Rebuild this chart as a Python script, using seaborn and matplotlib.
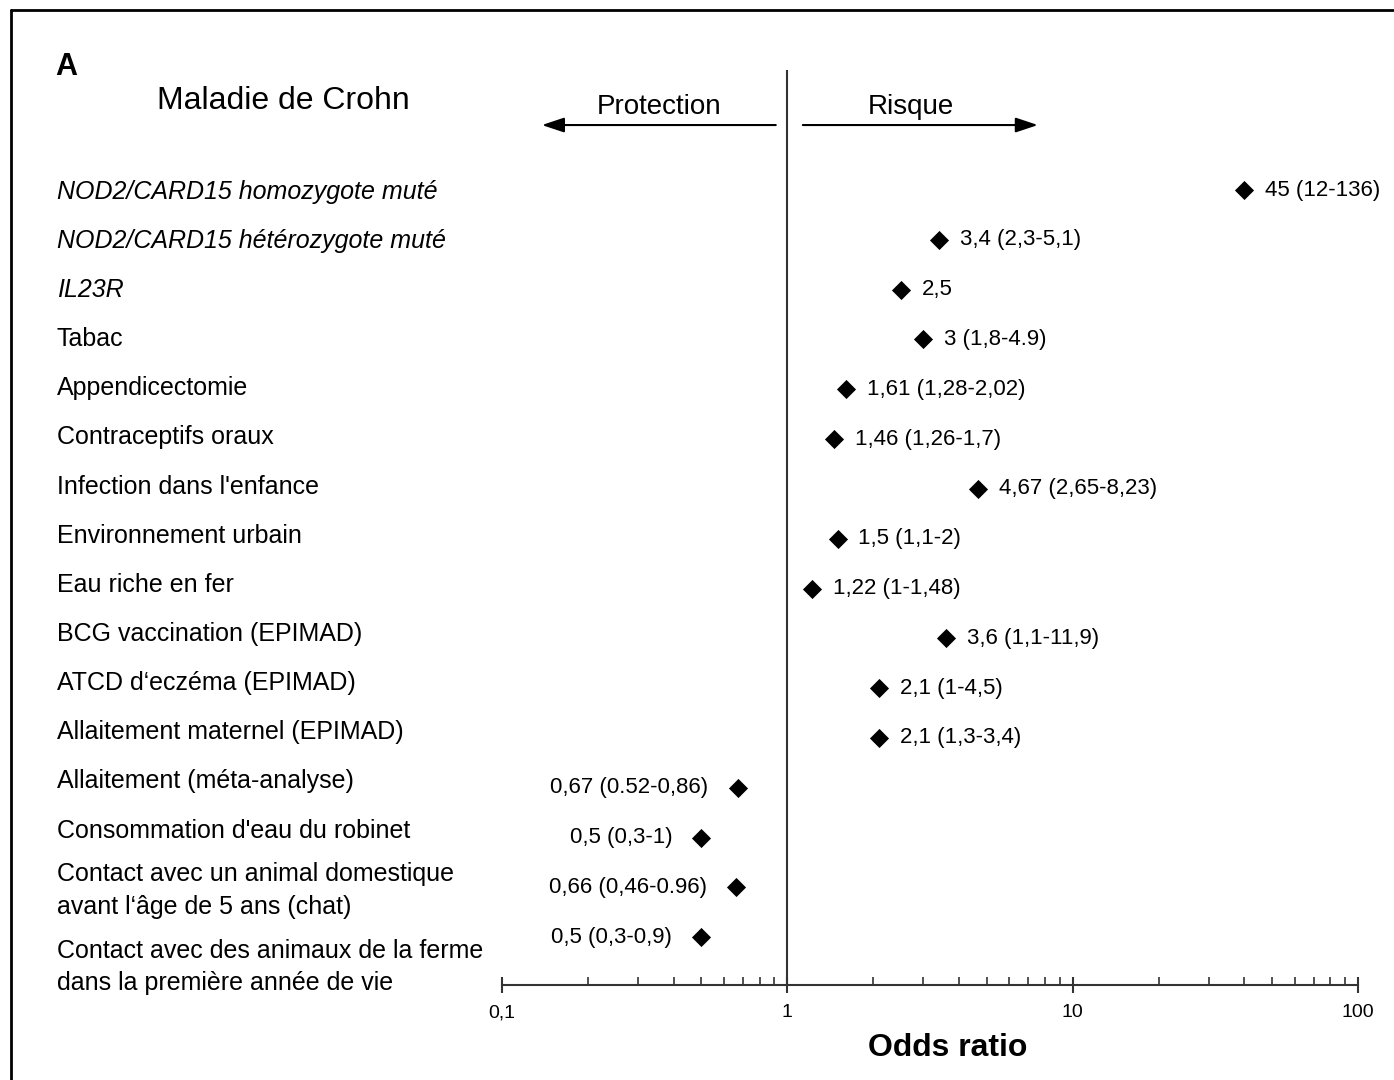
"""
Forest-style plot of odds ratios - Maladie de Crohn.
"""

import matplotlib

matplotlib.use("Agg")
import matplotlib.pyplot as plt
import pandas as pd
import seaborn as sns
from matplotlib.lines import Line2D
from matplotlib.ticker import FixedLocator, LogLocator, NullFormatter
from matplotlib.transforms import blended_transform_factory

# data
factors = [
    "NOD2/CARD15 homozygote muté",
    "NOD2/CARD15 hétérozygote muté",
    "IL23R",
    "Tabac",
    "Appendicectomie",
    "Contraceptifs oraux",
    "Infection dans l'enfance",
    "Environnement urbain",
    "Eau riche en fer",
    "BCG vaccination (EPIMAD)",
    "ATCD d‘eczéma (EPIMAD)",
    "Allaitement maternel (EPIMAD)",
    "Allaitement (méta-analyse)",
    "Consommation d'eau du robinet",
    "Contact avec un animal domestique\navant l‘âge de 5 ans (chat)",
    "Contact avec des animaux de la ferme\ndans la première année de vie",
]
italic_factors = factors[:3]
odds_ratio = [40, 3.4, 2.5, 3, 1.61, 1.46, 4.67, 1.5, 1.22, 3.6, 2.1, 2.1, 0.67, 0.5, 0.66, 0.5]
or_labels = [
    "45 (12-136)",
    "3,4 (2,3-5,1)",
    "2,5",
    "3 (1,8-4.9)",
    "1,61 (1,28-2,02)",
    "1,46 (1,26-1,7)",
    "4,67 (2,65-8,23)",
    "1,5 (1,1-2)",
    "1,22 (1-1,48)",
    "3,6 (1,1-11,9)",
    "2,1 (1-4,5)",
    "2,1 (1,3-3,4)",
    "0,67 (0.52-0,86)",
    "0,5 (0,3-1)",
    "0,66 (0,46-0.96)",
    "0,5 (0,3-0,9)",
]
tick_values = [0.1, 1, 10, 100]
tick_labels = ["0,1", "1", "10", "100"]

df = pd.DataFrame({"factor": factors, "odds_ratio": odds_ratio, "label": or_labels})
df["row"] = range(len(df))

sns.set_theme(style="white")
plt.rcParams["font.family"] = ["Liberation Sans", "DejaVu Sans"]
plt.rcParams["text.color"] = "black"
plt.rcParams["xtick.color"] = "black"

W, H = 1394, 1080
fig = plt.figure(figsize=(W / 100, H / 100), dpi=100)
ax = fig.add_axes([502 / W, 95 / H, 856 / W, 915 / H])

sns.scatterplot(data=df, x="odds_ratio", y="row", marker="D", s=95,
                color="black", linewidth=0, ax=ax, zorder=3)
ax.set_xscale("log")
ax.set_xlim(0.1, 100)
ax.set_ylim(15.96, -2.41)
ax.set_xlabel("")
ax.set_ylabel("")
ax.set_yticks([])

# axis styling
for side in ["top", "left", "right"]:
    ax.spines[side].set_visible(False)
ax.spines["bottom"].set_color("#333333")
ax.spines["bottom"].set_linewidth(1.5)
ax.xaxis.set_major_locator(FixedLocator(tick_values))
ax.set_xticklabels(tick_labels)
ax.xaxis.set_minor_locator(LogLocator(base=10, subs=range(2, 10)))
ax.xaxis.set_minor_formatter(NullFormatter())
ax.tick_params(axis="x", which="major", direction="inout", length=12, width=1.5,
               color="#333333", labelcolor="black", labelsize=14, pad=8, bottom=True)
ax.tick_params(axis="x", which="minor", direction="in", length=6, width=1.2,
               color="#333333", bottom=True)

# reference line at OR = 1
ax.axvline(1, color="#333333", linewidth=1.5, zorder=1)

# value annotations
for _, r in df.iterrows():
    if r["odds_ratio"] >= 1:
        ax.annotate(r["label"], (r["odds_ratio"], r["row"]), xytext=(15, 0),
                    textcoords="offset points", ha="left", va="center", fontsize=16)
    else:
        ax.annotate(r["label"], (r["odds_ratio"], r["row"]), xytext=(-21, 0),
                    textcoords="offset points", ha="right", va="center", fontsize=16)

# row labels on the left
trans = blended_transform_factory(fig.transFigure, ax.transData)
nudges = {14: 0.22, 15: 0.76}
for i, name in enumerate(factors):
    y = i * 0.987 + 0.03 + nudges.get(i, 0)
    style = "italic" if name in italic_factors else "normal"
    ax.text(57 / W, y, name, transform=trans, ha="left", va="center",
            fontsize=18, style=style, linespacing=1.45, clip_on=False)

# protection / risk arrows
arrow_kw = dict(arrowstyle="-|>,head_length=0.9,head_width=0.3", color="black",
                lw=1.5, shrinkA=0, shrinkB=0, mutation_scale=15)
ax.annotate("", xy=(0.138, -1.305), xytext=(0.911, -1.305), arrowprops=arrow_kw)
ax.annotate("", xy=(7.55, -1.305), xytext=(1.133, -1.305), arrowprops=arrow_kw)
ax.text(0.355, -1.67, "Protection", ha="center", va="center", fontsize=20)
ax.text(2.71, -1.67, "Risque", ha="center", va="center", fontsize=20)

# titles
fig.text(55 / W, 1 - 67 / H, "A", ha="left", va="center", fontsize=22, fontweight="bold")
fig.text(157 / W, 1 - 101 / H, "Maladie de Crohn", ha="left", va="center", fontsize=23)
fig.text(948 / W, 1 - 1048 / H, "Odds ratio", ha="center", va="center",
         fontsize=23, fontweight="bold")

# panel border (left and top)
fig.add_artist(Line2D([11 / W, 11 / W], [0, 1 - 10 / H], transform=fig.transFigure,
                      color="black", linewidth=2))
fig.add_artist(Line2D([11 / W, 1], [1 - 10 / H, 1 - 10 / H], transform=fig.transFigure,
                      color="black", linewidth=2))

fig.savefig("out.png", dpi=100)
